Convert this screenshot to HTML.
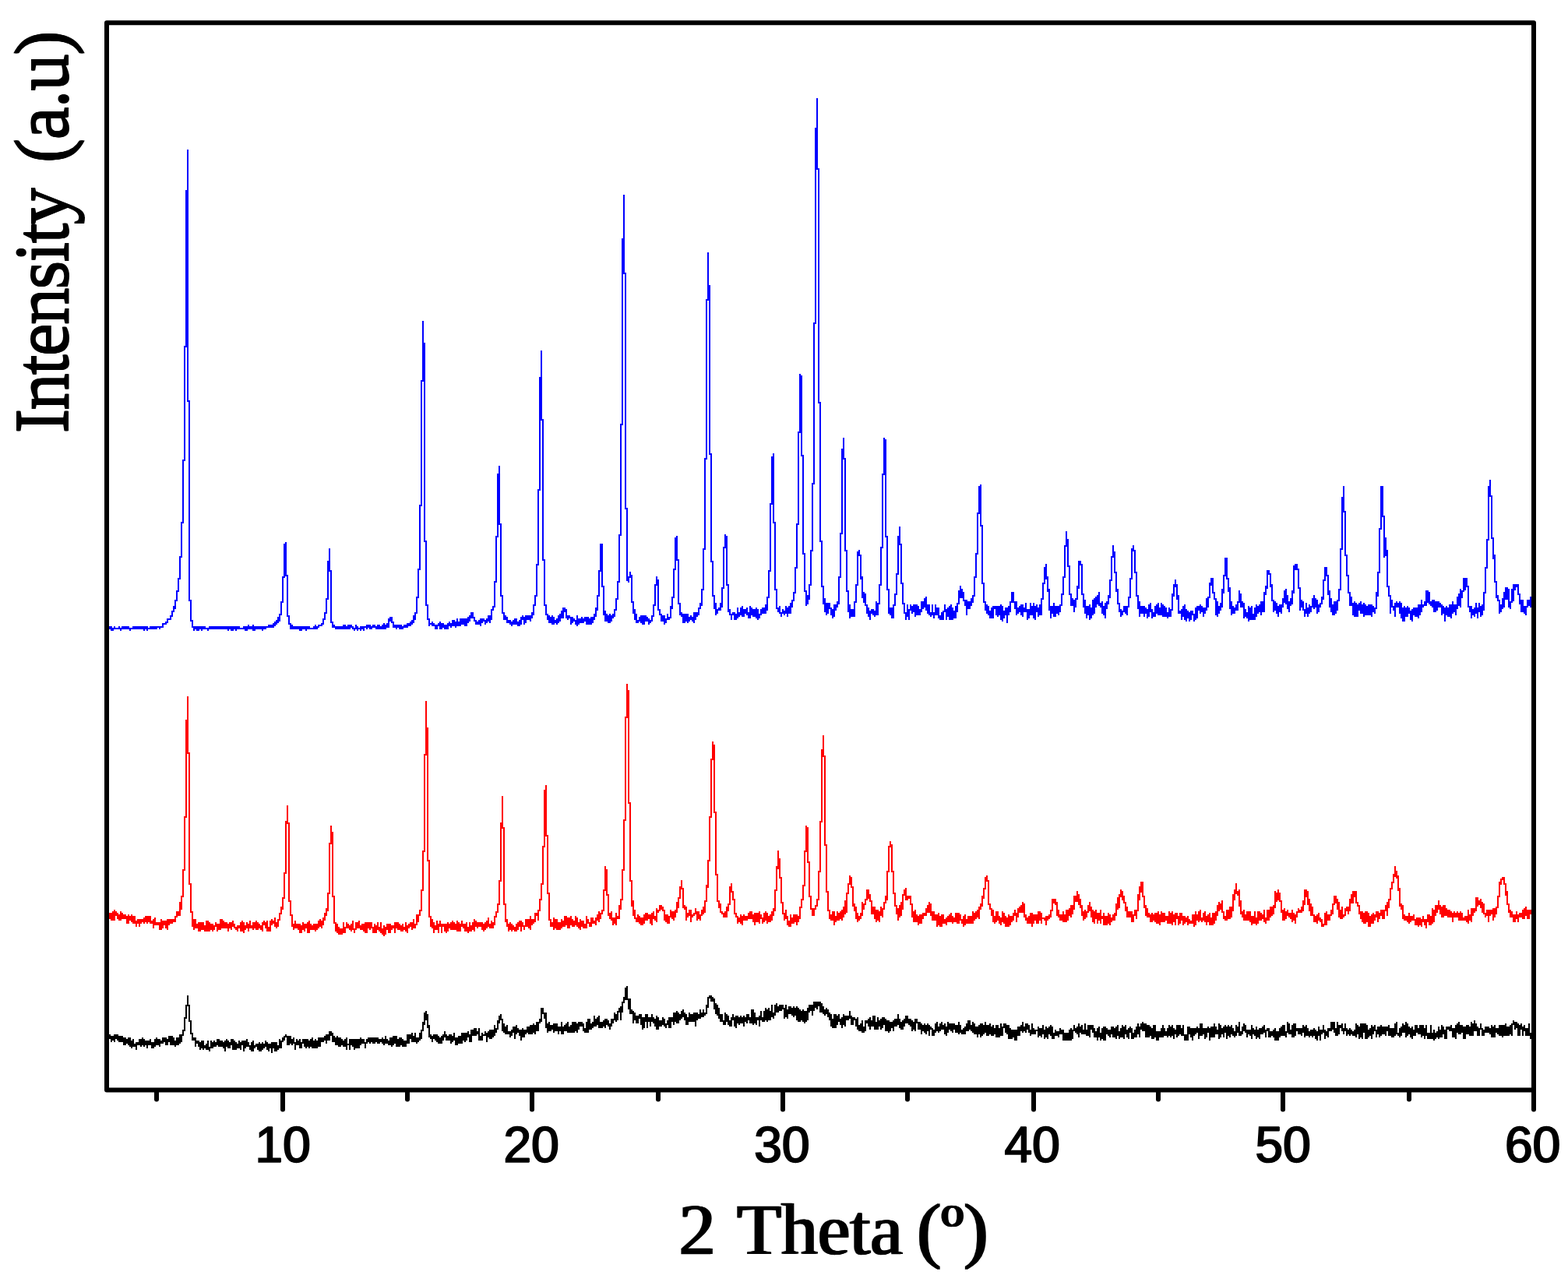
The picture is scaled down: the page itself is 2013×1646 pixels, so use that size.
<!DOCTYPE html>
<html lang="en"><head><meta charset="utf-8"><title>XRD patterns</title>
<style>
html,body{margin:0;padding:0;background:#fff;}
body{width:2013px;height:1646px;overflow:hidden;}
#page{position:relative;width:2013px;height:1646px;overflow:hidden;background:#fff;}
svg{display:block;position:absolute;left:0;top:0;}
.tk{position:absolute;top:1430px;width:200px;text-align:center;white-space:nowrap;font-family:"Liberation Sans",Arial,sans-serif;font-weight:normal;font-size:64px;line-height:80px;height:80px;color:#000;-webkit-text-stroke:1.5px #000;text-shadow:0.7px 0 0 #000,1.4px 0 0 #000;}
.ax{position:absolute;white-space:nowrap;font-family:"Liberation Serif","Times New Roman",serif;font-size:93.5px;line-height:120px;height:120px;color:#000;text-align:center;-webkit-text-stroke:0.3px #000;text-shadow:1px 0 0 #000,2px 0 0 #000,2.7px 0 0 #000;letter-spacing:0px;}
#xl{left:668.9px;top:1519px;width:800px;}
#yl{-webkit-text-stroke:0;font-size:97px;letter-spacing:-2.9px;text-shadow:0 -1px 0 #000,0 -2px 0 #000,0 -2.7px 0 #000;left:-344.0px;top:238.9px;width:800px;transform:rotate(-90deg) scale(1,1);transform-origin:50% 50%;}
.c{fill:none;stroke-width:2;stroke-linecap:butt;shape-rendering:crispEdges;}
</style></head><body>
<div id="page">
<svg width="2013" height="1646" viewBox="0 0 2013 1646">
<rect x="0" y="0" width="2013" height="1646" fill="#fff"/>
<g class="c">
<path stroke="#0000ff" d="M141 804V808M143 804V810M145 806V810M147 804V808M149 806V808M151 806V808M153 804V808M155 806V810M157 804V808M159 804V808M161 804V808M163 804V808M165 804V808M167 806V810M169 806V808M171 804V808M173 804V808M175 804V808M177 804V808M179 804V808M181 804V808M183 804V808M185 804V810M187 804V808M189 804V810M191 806V808M193 804V808M195 804V808M197 804V808M199 804V808M201 804V808M203 804V806M205 804V808M207 804V806M209 800V806M211 800V802M213 798V802M215 794V800M217 794V796M219 790V796M221 784V792M223 778V786M225 770V782M227 758V772M229 742V760M231 714V744M233 670V716M235 590V672M237 444V592M239 244V446M241 192V516M243 514V772M245 770V798M247 796V806M249 804V810M251 804V808M253 804V810M255 804V810M257 804V808M259 804V810M261 804V808M263 804V808M265 806V808M267 806V810M269 804V808M271 804V808M273 804V808M275 804V808M277 804V808M279 804V808M281 804V808M283 804V808M285 804V808M287 804V808M289 804V808M291 804V808M293 804V810M295 804V808M297 804V810M299 804V810M301 804V808M303 804V810M305 804V808M307 804V808M309 806V808M311 806V808M313 804V808M315 804V810M317 804V810M319 802V808M321 804V808M323 804V808M325 802V810M327 804V810M329 804V808M331 804V808M333 804V808M335 804V808M337 804V810M339 804V808M341 804V808M343 804V806M345 802V806M347 802V806M349 802V806M351 800V806M353 798V804M355 796V802M357 792V800M359 788V798M361 772V790M363 740V774M365 698V742M367 696V740M369 738V792M371 790V802M373 800V808M375 802V808M377 804V808M379 804V808M381 804V808M383 804V808M385 804V810M387 804V810M389 804V808M391 804V808M393 804V810M395 804V808M397 804V808M399 806V808M401 806V808M403 804V808M405 802V808M407 804V808M409 802V806M411 802V804M413 800V804M415 794V802M417 786V796M419 768V788M421 720V770M423 704V734M425 732V800M427 798V806M429 802V806M431 804V808M433 804V808M435 804V808M437 804V808M439 804V808M441 802V808M443 802V808M445 804V808M447 802V808M449 802V808M451 802V806M453 804V808M455 806V810M457 802V808M459 804V810M461 806V808M463 804V810M465 804V808M467 804V810M469 804V806M471 802V808M473 802V806M475 802V808M477 804V808M479 802V806M481 802V806M483 804V808M485 802V808M487 802V808M489 804V808M491 802V808M493 800V808M495 802V808M497 800V806M499 794V806M501 792V798M503 792V800M505 798V806M507 802V806M509 802V808M511 802V806M513 802V808M515 802V808M517 804V808M519 802V806M521 802V806M523 800V806M525 800V804M527 798V804M529 796V802M531 790V800M533 786V796M535 766V788M537 730V768M539 648V732M541 488V650M543 412V490M545 440V696M547 694V778M549 776V796M551 794V804M553 800V802M555 798V804M557 800V804M559 802V808M561 802V808M563 800V804M565 798V808M567 800V808M569 800V806M571 802V808M573 802V808M575 800V808M577 798V804M579 800V806M581 796V804M583 796V804M585 798V806M587 794V804M589 798V804M591 794V804M593 794V802M595 794V802M597 794V804M599 794V804M601 792V800M603 790V798M605 786V794M607 786V794M609 792V798M611 796V802M613 798V802M615 796V802M617 794V804M619 794V800M621 794V798M623 796V802M625 794V800M627 790V798M629 790V800M631 782V796M633 778V784M635 746V780M637 688V748M639 608V690M641 598V674M643 672V766M645 764V788M647 786V796M649 790V796M651 792V800M653 796V800M655 796V802M657 798V804M659 796V802M661 794V802M663 794V802M665 798V804M667 796V804M669 792V802M671 790V796M673 792V802M675 790V800M677 790V796M679 790V796M681 790V798M683 786V794M685 776V790M687 764V778M689 724V766M691 628V726M693 484V630M695 450V540M697 538V720M699 718V778M701 776V790M703 788V796M705 790V800M707 792V800M709 790V802M711 792V802M713 796V800M715 794V802M717 790V800M719 788V798M721 784V794M723 780V794M725 780V786M727 782V794M729 790V796M731 790V794M733 792V802M735 792V800M737 794V798M739 796V802M741 790V804M743 794V802M745 794V800M747 792V800M749 794V800M751 792V798M753 792V802M755 792V802M757 794V802M759 792V802M761 792V800M763 788V796M765 780V792M767 764V784M769 732V766M771 698V734M773 698V754M775 752V790M777 784V798M779 788V798M781 790V800M783 788V800M785 790V798M787 788V794M789 782V792M791 768V784M793 746V770M795 686V748M797 544V688M799 306V546M801 250V352M803 350V654M805 652V746M807 740V748M809 734V742M811 738V774M813 772V788M815 782V796M817 788V800M819 796V800M821 792V798M823 790V800M825 790V802M827 790V802M829 790V798M831 792V798M833 794V802M835 796V800M837 790V798M839 776V792M841 750V778M843 740V752M845 744V784M847 782V790M849 788V798M851 790V798M853 790V802M855 794V800M857 788V796M859 792V796M861 778V794M863 766V782M865 730V768M867 690V732M869 688V720M871 718V776M873 774V790M875 786V792M877 788V800M879 788V800M881 788V798M883 788V800M885 792V798M887 790V796M889 792V798M891 786V800M893 786V796M895 786V792M897 780V790M899 774V782M901 756V778M903 704V758M905 588V706M907 384V590M909 324V386M911 366V584M913 582V722M915 720V766M917 764V782M919 774V790M921 782V788M923 780V784M925 774V784M927 754V780M929 702V756M931 686V704M933 688V752M935 750V786M937 782V790M939 788V796M941 786V790M943 786V796M945 788V796M947 780V794M949 786V792M951 780V790M953 778V792M955 782V792M957 782V788M959 780V790M961 786V794M963 778V794M965 780V790M967 782V792M969 782V792M971 780V794M973 782V796M975 788V794M977 782V790M979 780V788M981 780V788M983 776V788M985 766V784M987 732V768M989 646V734M991 586V648M993 582V672M995 670V758M997 756V782M999 780V786M1001 778V788M1003 786V792M1005 782V788M1007 784V790M1009 778V788M1011 780V792M1013 778V788M1015 774V788M1017 770V780M1019 760V772M1021 728V762M1023 672V730M1025 554V674M1027 480V556M1029 482V586M1031 584V712M1033 710V760M1035 758V778M1037 764V776M1039 750V770M1041 706V752M1043 620V708M1045 414V622M1047 164V416M1049 126V218M1051 216V518M1053 516V696M1055 694V754M1057 752V776M1059 768V786M1061 774V790M1063 774V788M1065 774V782M1067 780V790M1069 782V794M1071 776V792M1073 776V784M1075 772V780M1077 740V776M1079 684V742M1081 576V686M1083 562V590M1085 588V708M1087 706V760M1089 758V786M1091 776V794M1093 782V792M1095 782V792M1097 772V792M1099 750V774M1101 708V752M1103 706V714M1105 712V744M1107 740V768M1109 760V774M1111 762V778M1113 776V788M1115 780V792M1117 784V796M1119 782V788M1121 782V790M1123 784V792M1125 772V790M1127 774V790M1129 750V776M1131 702V752M1133 608V704M1135 562V610M1137 564V690M1139 688V758M1141 756V788M1143 780V790M1145 780V794M1147 776V794M1149 762V778M1151 736V764M1153 688V738M1155 676V700M1157 698V750M1159 748V776M1161 774V788M1163 786V796M1165 776V792M1167 782V796M1169 776V784M1171 778V788M1173 776V786M1175 776V792M1177 776V790M1179 778V790M1181 782V790M1183 772V786M1185 772V782M1187 768V780M1189 766V784M1191 776V788M1193 776V790M1195 786V792M1197 776V790M1199 786V794M1201 776V790M1203 780V790M1205 780V794M1207 790V796M1209 786V796M1211 784V796M1213 776V786M1215 782V796M1217 780V792M1219 778V796M1221 776V796M1223 780V796M1225 784V794M1227 778V794M1229 774V786M1231 758V776M1233 752V768M1235 756V768M1237 760V772M1239 770V778M1241 770V790M1243 772V782M1245 772V782M1247 768V778M1249 764V774M1251 740V766M1253 710V742M1255 658V712M1257 624V660M1259 622V676M1261 674V750M1263 748V774M1265 772V784M1267 776V788M1269 778V790M1271 784V794M1273 780V794M1275 778V794M1277 778V782M1279 778V790M1281 778V792M1283 778V790M1285 776V796M1287 778V798M1289 784V794M1291 780V790M1293 780V800M1295 778V790M1297 772V786M1299 760V774M1301 760V774M1303 772V782M1305 772V790M1307 780V788M1309 778V786M1311 776V790M1313 776V792M1315 780V786M1317 774V786M1319 782V796M1321 782V794M1323 774V790M1325 778V790M1327 774V794M1329 778V796M1331 776V786M1333 780V792M1335 776V790M1337 768V790M1339 748V770M1341 728V750M1343 724V744M1345 740V760M1347 756V784M1349 778V794M1351 778V788M1353 774V792M1355 778V792M1357 778V788M1359 778V790M1361 776V786M1363 762V778M1365 740V764M1367 700V742M1369 682V702M1371 692V728M1373 726V764M1375 762V778M1377 768V778M1379 770V786M1381 768V780M1383 752V770M1385 720V756M1387 720V726M1389 724V764M1391 762V780M1393 770V788M1395 778V794M1397 778V790M1399 776V796M1401 780V794M1403 770V790M1405 768V788M1407 766V780M1409 764V776M1411 760V778M1413 774V780M1415 772V788M1417 778V790M1419 774V794M1421 772V782M1423 764V776M1425 744V768M1427 714V746M1429 700V716M1431 708V736M1433 734V760M1435 756V776M1437 774V786M1439 782V792M1441 784V790M1443 778V786M1445 778V788M1447 778V790M1449 766V780M1451 742V768M1453 704V744M1455 700V708M1457 706V736M1459 734V766M1461 764V782M1463 772V792M1465 778V788M1467 778V788M1469 778V792M1471 780V788M1473 782V794M1475 776V792M1477 774V786M1479 782V794M1481 786V792M1483 778V792M1485 776V788M1487 774V790M1489 780V790M1491 774V790M1493 776V792M1495 778V792M1497 780V792M1499 786V794M1501 780V792M1503 782V792M1505 762V784M1507 750V766M1509 744V754M1511 750V770M1513 764V788M1515 784V788M1517 782V796M1519 778V792M1521 776V796M1523 782V798M1525 784V794M1527 786V798M1529 784V796M1531 784V790M1533 788V798M1535 780V796M1537 778V794M1539 778V784M1541 776V788M1543 778V786M1545 780V792M1547 780V788M1549 768V784M1551 766V780M1553 748V768M1555 742V752M1557 742V762M1559 760V770M1561 768V790M1563 772V792M1565 778V788M1567 774V784M1569 756V780M1571 738V762M1573 716V740M1575 716V744M1577 742V760M1579 754V782M1581 772V790M1583 778V788M1585 780V788M1587 776V784M1589 772V784M1591 758V774M1593 762V780M1595 772V780M1597 774V794M1599 782V792M1601 786V794M1603 778V798M1605 780V796M1607 778V796M1609 788V796M1611 780V796M1613 776V792M1615 778V788M1617 776V786M1619 772V790M1621 772V786M1623 760V786M1625 752V764M1627 732V756M1629 732V738M1631 736V754M1633 750V772M1635 770V786M1637 772V784M1639 774V788M1641 778V792M1643 776V786M1645 776V788M1647 768V780M1649 758V774M1651 756V776M1653 764V782M1655 772V786M1657 768V778M1659 758V776M1661 726V762M1663 724V732M1665 724V732M1667 730V756M1669 754V784M1671 770V780M1673 772V784M1675 782V792M1677 774V788M1679 780V792M1681 776V788M1683 778V786M1685 768V780M1687 764V782M1689 768V780M1691 770V788M1693 776V786M1695 774V780M1697 766V776M1699 744V770M1701 728V746M1703 728V740M1705 738V764M1707 758V780M1709 768V786M1711 776V790M1713 772V790M1715 772V788M1717 770V784M1719 756V772M1721 704V758M1723 638V706M1725 624V658M1727 656V714M1729 712V740M1731 738V762M1733 760V778M1735 766V778M1737 774V790M1739 772V792M1741 774V792M1743 776V792M1745 774V784M1747 772V788M1749 776V788M1751 774V792M1753 776V790M1755 778V790M1757 776V790M1759 776V790M1761 776V792M1763 778V786M1765 780V788M1767 760V782M1769 734V766M1771 678V736M1773 624V680M1775 624V664M1777 662V716M1779 690V714M1781 706V754M1783 752V766M1785 764V788M1787 770V780M1789 778V784M1791 774V792M1793 772V780M1795 774V780M1797 772V788M1799 774V794M1801 780V798M1803 778V798M1805 780V792M1807 778V792M1809 780V788M1811 784V796M1813 782V798M1815 780V790M1817 780V792M1819 780V792M1821 776V794M1823 776V790M1825 770V786M1827 776V780M1829 772V778M1831 758V778M1833 758V774M1835 760V776M1837 772V778M1839 770V780M1841 770V786M1843 772V786M1845 772V784M1847 772V780M1849 774V780M1851 776V790M1853 778V788M1855 780V798M1857 778V790M1859 780V792M1861 776V792M1863 776V794M1865 772V788M1867 776V786M1869 776V790M1871 766V782M1873 762V778M1875 756V780M1877 758V768M1879 742V760M1881 742V758M1883 742V754M1885 752V780M1887 778V786M1889 778V794M1891 782V790M1893 780V792M1895 774V788M1897 780V794M1899 774V786M1901 778V792M1903 776V790M1905 760V784M1907 728V762M1909 692V730M1911 624V694M1913 616V638M1915 636V692M1917 690V718M1919 712V748M1921 746V768M1923 764V772M1925 770V788M1927 776V786M1929 768V782M1931 760V780M1933 754V770M1935 754V770M1937 756V780M1939 772V782M1941 756V774M1943 750V772M1945 750V758M1947 750V754M1949 750V764M1951 762V776M1953 770V786M1955 770V786M1957 778V788M1959 778V790M1961 770V780M1963 770V778M1965 766V780"/>
<path stroke="#ff0000" d="M141 1172V1180M143 1172V1182M145 1170V1182M147 1168V1182M149 1170V1176M151 1172V1180M153 1174V1182M155 1170V1182M157 1172V1180M159 1174V1180M161 1174V1180M163 1176V1186M165 1174V1186M167 1176V1182M169 1174V1184M171 1176V1186M173 1176V1186M175 1182V1190M177 1180V1186M179 1180V1190M181 1180V1186M183 1180V1184M185 1178V1186M187 1176V1184M189 1176V1186M191 1176V1184M193 1176V1186M195 1182V1186M197 1180V1192M199 1178V1188M201 1184V1188M203 1184V1188M205 1184V1194M207 1180V1194M209 1182V1192M211 1182V1188M213 1182V1192M215 1180V1194M217 1180V1188M219 1180V1186M221 1180V1186M223 1180V1184M225 1176V1184M227 1170V1178M229 1170V1176M231 1158V1176M233 1150V1168M235 1116V1152M237 1048V1118M239 924V1050M241 894V968M243 966V1136M245 1134V1172M247 1170V1190M249 1180V1194M251 1180V1192M253 1186V1192M255 1184V1196M257 1184V1196M259 1184V1194M261 1184V1194M263 1188V1196M265 1182V1196M267 1182V1196M269 1184V1196M271 1186V1194M273 1186V1196M275 1188V1194M277 1184V1190M279 1186V1196M281 1186V1194M283 1180V1194M285 1180V1192M287 1182V1192M289 1184V1192M291 1184V1192M293 1186V1196M295 1184V1192M297 1184V1194M299 1182V1190M301 1186V1192M303 1190V1194M305 1188V1196M307 1188V1192M309 1184V1196M311 1182V1196M313 1184V1198M315 1188V1194M317 1184V1192M319 1186V1196M321 1182V1192M323 1188V1192M325 1184V1194M327 1184V1192M329 1182V1194M331 1184V1194M333 1186V1192M335 1188V1194M337 1184V1196M339 1182V1188M341 1184V1192M343 1182V1196M345 1190V1196M347 1182V1196M349 1180V1188M351 1182V1186M353 1178V1190M355 1184V1192M357 1180V1190M359 1172V1182M361 1164V1174M363 1152V1168M365 1120V1154M367 1054V1122M369 1034V1058M371 1056V1158M373 1156V1176M375 1174V1190M377 1186V1194M379 1182V1192M381 1186V1192M383 1186V1194M385 1186V1198M387 1188V1198M389 1184V1194M391 1186V1196M393 1186V1192M395 1184V1198M397 1182V1198M399 1186V1194M401 1188V1194M403 1186V1194M405 1186V1196M407 1186V1194M409 1182V1192M411 1180V1190M413 1182V1192M415 1178V1188M417 1172V1182M419 1166V1176M421 1146V1170M423 1082V1148M425 1060V1084M427 1068V1152M429 1150V1186M431 1184V1196M433 1186V1198M435 1190V1200M437 1192V1200M439 1192V1200M441 1184V1198M443 1190V1198M445 1184V1192M447 1186V1192M449 1188V1194M451 1186V1196M453 1182V1194M455 1192V1198M457 1184V1194M459 1184V1192M461 1182V1192M463 1188V1194M465 1186V1194M467 1186V1196M469 1184V1198M471 1184V1198M473 1184V1192M475 1184V1194M477 1184V1192M479 1190V1198M481 1186V1198M483 1188V1198M485 1184V1194M487 1190V1196M489 1184V1198M491 1192V1200M493 1188V1202M495 1190V1200M497 1186V1194M499 1186V1198M501 1186V1198M503 1188V1194M505 1188V1192M507 1184V1198M509 1184V1192M511 1184V1194M513 1186V1194M515 1188V1196M517 1186V1196M519 1190V1194M521 1184V1196M523 1188V1198M525 1186V1192M527 1184V1190M529 1184V1194M531 1180V1192M533 1186V1192M535 1174V1188M537 1174V1184M539 1168V1176M541 1142V1170M543 1092V1144M545 968V1094M547 900V970M549 934V1106M551 1104V1178M553 1176V1190M555 1180V1192M557 1184V1198M559 1188V1194M561 1182V1194M563 1186V1198M565 1182V1190M567 1186V1198M569 1186V1190M571 1186V1196M573 1186V1198M575 1184V1196M577 1186V1192M579 1184V1194M581 1182V1194M583 1184V1194M585 1186V1194M587 1182V1196M589 1184V1196M591 1186V1196M593 1182V1190M595 1186V1192M597 1186V1196M599 1184V1196M601 1190V1198M603 1184V1196M605 1188V1196M607 1184V1194M609 1180V1196M611 1182V1190M613 1184V1192M615 1184V1190M617 1184V1190M619 1184V1194M621 1186V1196M623 1184V1194M625 1182V1192M627 1178V1190M629 1186V1192M631 1182V1192M633 1184V1192M635 1176V1188M637 1170V1178M639 1160V1172M641 1130V1162M643 1056V1132M645 1022V1064M647 1062V1162M649 1160V1184M651 1180V1190M653 1186V1196M655 1184V1194M657 1186V1196M659 1188V1194M661 1190V1196M663 1186V1196M665 1184V1194M667 1182V1190M669 1182V1196M671 1184V1190M673 1188V1194M675 1180V1190M677 1180V1190M679 1180V1192M681 1176V1194M683 1180V1188M685 1180V1186M687 1172V1184M689 1172V1176M691 1168V1182M693 1154V1170M695 1134V1156M697 1086V1136M699 1014V1088M701 1008V1074M703 1072V1148M705 1146V1182M707 1180V1190M709 1184V1190M711 1178V1194M713 1180V1192M715 1180V1194M717 1184V1194M719 1184V1194M721 1180V1192M723 1182V1190M725 1176V1190M727 1176V1188M729 1178V1192M731 1178V1192M733 1176V1188M735 1180V1190M737 1182V1190M739 1176V1188M741 1178V1190M743 1184V1192M745 1180V1194M747 1182V1190M749 1182V1192M751 1186V1192M753 1176V1192M755 1180V1186M757 1184V1190M759 1178V1190M761 1178V1186M763 1182V1186M765 1178V1188M767 1174V1182M769 1170V1184M771 1172V1180M773 1168V1174M775 1142V1170M777 1112V1144M779 1116V1150M781 1148V1176M783 1172V1180M785 1170V1182M787 1178V1188M789 1178V1186M791 1172V1188M793 1176V1180M795 1162V1180M797 1154V1168M799 1116V1156M801 1052V1118M803 920V1054M805 878V922M807 886V1032M809 1030V1132M811 1130V1164M813 1156V1176M815 1168V1180M817 1178V1184M819 1174V1184M821 1176V1186M823 1178V1188M825 1178V1188M827 1174V1186M829 1172V1182M831 1172V1182M833 1174V1180M835 1174V1186M837 1172V1188M839 1170V1180M841 1176V1182M843 1166V1184M845 1168V1172M847 1162V1170M849 1162V1168M851 1164V1170M853 1168V1182M855 1174V1184M857 1174V1186M859 1176V1186M861 1168V1178M863 1170V1180M865 1170V1182M867 1168V1178M869 1158V1172M871 1152V1166M873 1138V1154M875 1130V1142M877 1140V1166M879 1162V1168M881 1164V1182M883 1172V1178M885 1168V1176M887 1168V1184M889 1174V1178M891 1172V1176M893 1166V1174M895 1170V1182M897 1170V1180M899 1174V1182M901 1168V1176M903 1164V1174M905 1156V1172M907 1136V1158M909 1104V1140M911 1048V1106M913 974V1050M915 952V976M917 956V1044M919 1042V1124M921 1122V1158M923 1156V1166M925 1160V1172M927 1170V1174M929 1172V1178M931 1170V1178M933 1164V1178M935 1160V1170M937 1138V1162M939 1134V1146M941 1144V1156M943 1154V1174M945 1172V1178M947 1176V1186M949 1178V1184M951 1174V1186M953 1176V1188M955 1174V1182M957 1176V1182M959 1176V1182M961 1172V1180M963 1170V1180M965 1170V1180M967 1174V1184M969 1172V1188M971 1172V1184M973 1172V1184M975 1170V1186M977 1174V1180M979 1178V1186M981 1172V1184M983 1170V1182M985 1172V1186M987 1176V1184M989 1174V1184M991 1170V1182M993 1166V1176M995 1142V1170M997 1112V1144M999 1092V1116M1001 1102V1128M1003 1126V1160M1005 1158V1174M1007 1172V1182M1009 1168V1180M1011 1176V1188M1013 1182V1190M1015 1174V1190M1017 1178V1186M1019 1174V1186M1021 1174V1184M1023 1174V1188M1025 1176V1184M1027 1164V1180M1029 1154V1166M1031 1136V1156M1033 1092V1138M1035 1060V1094M1037 1062V1108M1039 1106V1152M1041 1150V1168M1043 1166V1176M1045 1166V1176M1047 1162V1168M1049 1154V1164M1051 1118V1156M1053 1054V1120M1055 962V1056M1057 944V972M1059 970V1086M1061 1084V1146M1063 1144V1170M1065 1168V1180M1067 1174V1182M1069 1170V1182M1071 1170V1188M1073 1176V1184M1075 1170V1182M1077 1172V1182M1079 1170V1180M1081 1168V1182M1083 1164V1178M1085 1156V1174M1087 1146V1172M1089 1134V1148M1091 1124V1136M1093 1126V1140M1095 1138V1164M1097 1160V1170M1099 1164V1180M1101 1172V1184M1103 1176V1182M1105 1172V1180M1107 1158V1176M1109 1160V1168M1111 1154V1162M1113 1142V1156M1115 1142V1154M1117 1148V1158M1119 1156V1174M1121 1164V1174M1123 1164V1180M1125 1168V1184M1127 1168V1182M1129 1170V1184M1131 1164V1176M1133 1166V1178M1135 1158V1168M1137 1150V1160M1139 1118V1156M1141 1086V1120M1143 1080V1088M1145 1084V1120M1147 1118V1148M1149 1146V1164M1151 1162V1174M1153 1166V1182M1155 1162V1178M1157 1158V1176M1159 1148V1168M1161 1142V1150M1163 1140V1156M1165 1150V1156M1167 1150V1154M1169 1150V1162M1171 1160V1178M1173 1170V1184M1175 1168V1184M1177 1174V1184M1179 1176V1188M1181 1174V1186M1183 1174V1186M1185 1172V1180M1187 1172V1176M1189 1166V1176M1191 1162V1172M1193 1158V1172M1195 1160V1176M1197 1170V1182M1199 1170V1182M1201 1174V1182M1203 1174V1190M1205 1172V1188M1207 1176V1190M1209 1174V1190M1211 1174V1186M1213 1180V1186M1215 1178V1188M1217 1176V1184M1219 1174V1184M1221 1172V1184M1223 1176V1186M1225 1178V1184M1227 1172V1184M1229 1172V1186M1231 1172V1186M1233 1174V1182M1235 1180V1186M1237 1176V1190M1239 1174V1188M1241 1180V1186M1243 1176V1186M1245 1176V1186M1247 1176V1186M1249 1170V1186M1251 1172V1182M1253 1170V1180M1255 1168V1178M1257 1164V1180M1259 1160V1168M1261 1150V1164M1263 1140V1154M1265 1126V1142M1267 1124V1132M1269 1130V1162M1271 1160V1168M1273 1166V1176M1275 1168V1184M1277 1176V1186M1279 1170V1184M1281 1170V1182M1283 1176V1186M1285 1178V1188M1287 1170V1184M1289 1172V1186M1291 1176V1190M1293 1178V1190M1295 1174V1190M1297 1176V1188M1299 1176V1184M1301 1172V1182M1303 1168V1176M1305 1172V1184M1307 1166V1178M1309 1164V1172M1311 1162V1172M1313 1158V1172M1315 1160V1178M1317 1174V1182M1319 1178V1186M1321 1176V1186M1323 1172V1186M1325 1172V1190M1327 1174V1186M1329 1174V1182M1331 1174V1186M1333 1170V1186M1335 1170V1182M1337 1172V1186M1339 1178V1180M1341 1178V1182M1343 1176V1188M1345 1176V1182M1347 1174V1180M1349 1168V1178M1351 1154V1170M1353 1154V1160M1355 1154V1162M1357 1158V1176M1359 1168V1178M1361 1174V1182M1363 1174V1182M1365 1170V1184M1367 1174V1184M1369 1168V1184M1371 1168V1182M1373 1166V1176M1375 1162V1178M1377 1162V1174M1379 1150V1168M1381 1150V1158M1383 1144V1158M1385 1148V1162M1387 1154V1166M1389 1162V1176M1391 1170V1182M1393 1168V1180M1395 1170V1178M1397 1162V1172M1399 1158V1170M1401 1164V1178M1403 1168V1184M1405 1170V1186M1407 1168V1180M1409 1172V1186M1411 1172V1182M1413 1168V1186M1415 1176V1180M1417 1172V1188M1419 1176V1188M1421 1176V1188M1423 1172V1186M1425 1174V1188M1427 1178V1184M1429 1174V1182M1431 1172V1182M1433 1160V1176M1435 1152V1168M1437 1148V1166M1439 1142V1152M1441 1144V1156M1443 1150V1160M1445 1158V1170M1447 1164V1178M1449 1170V1178M1451 1170V1178M1453 1170V1184M1455 1174V1184M1457 1168V1176M1459 1168V1180M1461 1148V1170M1463 1138V1156M1465 1132V1146M1467 1132V1152M1469 1150V1166M1471 1162V1176M1473 1166V1178M1475 1172V1178M1477 1174V1184M1479 1172V1184M1481 1174V1182M1483 1172V1184M1485 1172V1186M1487 1170V1186M1489 1174V1188M1491 1170V1184M1493 1172V1184M1495 1172V1184M1497 1176V1182M1499 1176V1186M1501 1170V1186M1503 1172V1186M1505 1170V1188M1507 1174V1184M1509 1172V1188M1511 1172V1180M1513 1176V1188M1515 1172V1186M1517 1172V1182M1519 1176V1188M1521 1176V1186M1523 1178V1184M1525 1176V1188M1527 1180V1186M1529 1182V1186M1531 1174V1186M1533 1174V1190M1535 1170V1188M1537 1174V1182M1539 1170V1184M1541 1168V1182M1543 1178V1184M1545 1172V1182M1547 1170V1184M1549 1176V1188M1551 1174V1184M1553 1172V1188M1555 1178V1188M1557 1172V1188M1559 1172V1186M1561 1170V1182M1563 1162V1176M1565 1158V1170M1567 1160V1168M1569 1156V1172M1571 1170V1180M1573 1176V1182M1575 1168V1182M1577 1168V1180M1579 1164V1180M1581 1164V1178M1583 1148V1170M1585 1142V1156M1587 1134V1148M1589 1144V1150M1591 1142V1164M1593 1156V1174M1595 1170V1178M1597 1168V1182M1599 1174V1182M1601 1170V1182M1603 1170V1182M1605 1170V1184M1607 1176V1188M1609 1176V1186M1611 1170V1186M1613 1178V1188M1615 1170V1186M1617 1170V1182M1619 1172V1182M1621 1174V1180M1623 1168V1184M1625 1178V1186M1627 1168V1182M1629 1168V1182M1631 1164V1178M1633 1164V1176M1635 1162V1174M1637 1144V1166M1639 1146V1158M1641 1142V1156M1643 1146V1158M1645 1156V1172M1647 1168V1182M1649 1166V1182M1651 1170V1180M1653 1168V1176M1655 1172V1178M1657 1172V1180M1659 1168V1184M1661 1172V1182M1663 1174V1186M1665 1170V1178M1667 1166V1172M1669 1168V1172M1671 1164V1172M1673 1156V1170M1675 1142V1162M1677 1142V1152M1679 1144V1162M1681 1154V1170M1683 1160V1176M1685 1164V1176M1687 1174V1184M1689 1176V1184M1691 1174V1186M1693 1172V1182M1695 1178V1184M1697 1180V1190M1699 1186V1190M1701 1172V1188M1703 1170V1188M1705 1174V1182M1707 1174V1182M1709 1168V1176M1711 1160V1174M1713 1150V1162M1715 1150V1160M1717 1154V1168M1719 1158V1178M1721 1168V1180M1723 1164V1180M1725 1174V1178M1727 1166V1176M1729 1164V1170M1731 1164V1174M1733 1154V1170M1735 1148V1160M1737 1144V1160M1739 1144V1152M1741 1144V1160M1743 1158V1164M1745 1162V1174M1747 1170V1180M1749 1170V1184M1751 1172V1186M1753 1170V1186M1755 1170V1184M1757 1172V1190M1759 1176V1190M1761 1174V1186M1763 1172V1186M1765 1174V1182M1767 1170V1178M1769 1170V1184M1771 1172V1180M1773 1168V1176M1775 1168V1180M1777 1168V1180M1779 1162V1170M1781 1158V1176M1783 1154V1166M1785 1140V1156M1787 1132V1142M1789 1122V1134M1791 1112V1126M1793 1118V1128M1795 1124V1144M1797 1140V1164M1799 1160V1168M1801 1162V1180M1803 1174V1182M1805 1176V1182M1807 1176V1184M1809 1172V1186M1811 1176V1184M1813 1176V1182M1815 1174V1182M1817 1180V1188M1819 1178V1188M1821 1178V1190M1823 1178V1188M1825 1180V1190M1827 1176V1184M1829 1180V1188M1831 1180V1192M1833 1174V1184M1835 1174V1188M1837 1176V1188M1839 1166V1186M1841 1168V1184M1843 1162V1176M1845 1162V1172M1847 1156V1168M1849 1162V1174M1851 1164V1178M1853 1162V1178M1855 1162V1176M1857 1166V1176M1859 1168V1178M1861 1168V1178M1863 1170V1178M1865 1172V1184M1867 1170V1178M1869 1172V1178M1871 1170V1178M1873 1172V1182M1875 1170V1182M1877 1172V1182M1879 1178V1182M1881 1176V1182M1883 1176V1184M1885 1168V1186M1887 1174V1182M1889 1166V1184M1891 1166V1176M1893 1166V1172M1895 1152V1170M1897 1152V1164M1899 1156V1162M1901 1154V1166M1903 1158V1172M1905 1160V1174M1907 1172V1178M1909 1168V1176M1911 1168V1184M1913 1168V1176M1915 1168V1174M1917 1166V1182M1919 1166V1178M1921 1164V1174M1923 1150V1166M1925 1132V1152M1927 1128V1136M1929 1126V1130M1931 1126V1136M1933 1134V1150M1935 1144V1162M1937 1160V1172M1939 1168V1178M1941 1170V1178M1943 1174V1184M1945 1174V1184M1947 1170V1180M1949 1174V1184M1951 1172V1178M1953 1172V1178M1955 1168V1180M1957 1166V1180M1959 1164V1176M1961 1168V1180M1963 1168V1180M1965 1168V1174"/>
<path stroke="#000000" d="M141 1328V1334M143 1330V1338M145 1330V1336M147 1328V1338M149 1328V1334M151 1328V1336M153 1330V1338M155 1330V1338M157 1330V1338M159 1332V1342M161 1332V1342M163 1334V1340M165 1332V1342M167 1332V1344M169 1336V1346M171 1334V1344M173 1340V1344M175 1338V1348M177 1338V1342M179 1334V1342M181 1334V1344M183 1332V1342M185 1334V1344M187 1336V1342M189 1336V1346M191 1336V1342M193 1334V1342M195 1338V1346M197 1338V1346M199 1334V1344M201 1332V1342M203 1334V1342M205 1334V1344M207 1336V1340M209 1332V1340M211 1332V1338M213 1332V1342M215 1334V1342M217 1330V1338M219 1330V1342M221 1330V1342M223 1332V1342M225 1336V1344M227 1332V1342M229 1332V1342M231 1328V1340M233 1328V1338M235 1322V1330M237 1306V1324M239 1290V1308M241 1278V1292M243 1290V1312M245 1310V1328M247 1326V1336M249 1332V1336M251 1332V1344M253 1336V1340M255 1336V1344M257 1338V1348M259 1336V1346M261 1336V1348M263 1342V1346M265 1340V1348M267 1336V1348M269 1344V1350M271 1336V1346M273 1338V1346M275 1336V1344M277 1338V1344M279 1334V1342M281 1334V1344M283 1336V1344M285 1336V1344M287 1338V1346M289 1336V1350M291 1334V1344M293 1336V1346M295 1338V1346M297 1334V1342M299 1334V1348M301 1336V1348M303 1338V1348M305 1340V1346M307 1336V1346M309 1338V1348M311 1336V1342M313 1336V1350M315 1336V1346M317 1334V1344M319 1338V1344M321 1342V1348M323 1338V1350M325 1336V1350M327 1342V1346M329 1340V1344M331 1340V1348M333 1338V1350M335 1340V1350M337 1338V1348M339 1340V1346M341 1336V1344M343 1338V1348M345 1340V1350M347 1340V1346M349 1338V1352M351 1338V1346M353 1338V1350M355 1338V1350M357 1342V1348M359 1334V1346M361 1336V1346M363 1332V1338M365 1330V1336M367 1328V1332M369 1330V1342M371 1330V1342M373 1330V1340M375 1334V1342M377 1332V1340M379 1338V1348M381 1334V1342M383 1336V1342M385 1334V1346M387 1338V1346M389 1334V1340M391 1334V1344M393 1334V1346M395 1334V1344M397 1336V1346M399 1334V1344M401 1332V1346M403 1336V1346M405 1334V1346M407 1336V1346M409 1332V1344M411 1332V1344M413 1332V1338M415 1332V1338M417 1330V1336M419 1328V1340M421 1328V1336M423 1324V1336M425 1324V1330M427 1326V1338M429 1330V1338M431 1332V1342M433 1330V1342M435 1332V1344M437 1332V1344M439 1334V1342M441 1336V1344M443 1334V1344M445 1332V1348M447 1340V1342M449 1334V1348M451 1334V1342M453 1334V1344M455 1334V1348M457 1334V1346M459 1334V1346M461 1334V1346M463 1332V1342M465 1334V1340M467 1334V1340M469 1338V1346M471 1334V1340M473 1332V1338M475 1332V1340M477 1332V1338M479 1332V1340M481 1332V1340M483 1332V1338M485 1332V1340M487 1334V1340M489 1334V1338M491 1332V1340M493 1334V1342M495 1330V1340M497 1334V1340M499 1336V1342M501 1332V1342M503 1332V1344M505 1330V1342M507 1330V1340M509 1330V1344M511 1334V1344M513 1332V1344M515 1332V1342M517 1334V1344M519 1336V1344M521 1336V1344M523 1328V1340M525 1328V1340M527 1328V1334M529 1326V1338M531 1330V1338M533 1326V1338M535 1332V1340M537 1332V1338M539 1326V1336M541 1322V1334M543 1312V1324M545 1300V1316M547 1298V1310M549 1302V1320M551 1316V1332M553 1328V1334M555 1330V1338M557 1328V1334M559 1328V1336M561 1328V1338M563 1330V1340M565 1332V1340M567 1330V1340M569 1328V1336M571 1324V1332M573 1328V1336M575 1330V1336M577 1328V1336M579 1328V1340M581 1330V1338M583 1326V1336M585 1332V1342M587 1332V1342M589 1330V1340M591 1330V1340M593 1326V1340M595 1326V1336M597 1326V1338M599 1326V1336M601 1324V1332M603 1328V1338M605 1322V1338M607 1322V1330M609 1320V1330M611 1320V1330M613 1324V1328M615 1320V1336M617 1330V1336M619 1326V1336M621 1328V1330M623 1324V1330M625 1326V1338M627 1324V1332M629 1322V1334M631 1322V1334M633 1322V1332M635 1316V1330M637 1320V1326M639 1310V1322M641 1304V1314M643 1302V1310M645 1308V1324M647 1314V1326M649 1318V1328M651 1316V1328M653 1324V1328M655 1324V1332M657 1322V1330M659 1318V1326M661 1318V1334M663 1316V1328M665 1320V1326M667 1322V1330M669 1322V1336M671 1320V1332M673 1322V1332M675 1322V1328M677 1318V1326M679 1318V1328M681 1316V1328M683 1316V1328M685 1314V1326M687 1316V1328M689 1312V1324M691 1312V1324M693 1308V1314M695 1294V1312M697 1294V1302M699 1300V1308M701 1300V1320M703 1314V1326M705 1312V1324M707 1316V1324M709 1316V1322M711 1314V1326M713 1314V1324M715 1314V1324M717 1318V1328M719 1318V1324M721 1312V1328M723 1318V1328M725 1316V1324M727 1314V1324M729 1312V1326M731 1318V1326M733 1316V1326M735 1312V1326M737 1312V1326M739 1312V1324M741 1314V1326M743 1312V1322M745 1312V1318M747 1312V1318M749 1314V1324M751 1320V1326M753 1312V1326M755 1308V1326M757 1308V1322M759 1314V1322M761 1312V1320M763 1304V1318M765 1308V1318M767 1306V1316M769 1304V1320M771 1312V1320M773 1312V1320M775 1310V1318M777 1308V1320M779 1308V1316M781 1310V1318M783 1314V1322M785 1308V1318M787 1308V1314M789 1300V1310M791 1302V1312M793 1298V1310M795 1294V1300M797 1292V1310M799 1286V1300M801 1280V1288M803 1268V1284M805 1266V1284M807 1282V1296M809 1282V1302M811 1296V1302M813 1298V1314M815 1300V1310M817 1304V1314M819 1304V1314M821 1302V1308M823 1302V1316M825 1306V1322M827 1306V1320M829 1302V1312M831 1302V1320M833 1306V1312M835 1306V1318M837 1302V1312M839 1306V1314M841 1308V1318M843 1304V1322M845 1306V1322M847 1310V1318M849 1310V1318M851 1306V1316M853 1308V1318M855 1314V1320M857 1310V1316M859 1306V1320M861 1306V1320M863 1306V1312M865 1300V1316M867 1300V1312M869 1298V1314M871 1300V1314M873 1302V1310M875 1298V1308M877 1296V1306M879 1300V1310M881 1302V1316M883 1306V1316M885 1300V1312M887 1302V1312M889 1302V1312M891 1300V1312M893 1300V1318M895 1300V1310M897 1302V1308M899 1296V1308M901 1300V1306M903 1296V1306M905 1300V1304M907 1290V1302M909 1280V1294M911 1278V1282M913 1278V1286M915 1280V1286M917 1282V1296M919 1288V1302M921 1290V1304M923 1294V1308M925 1302V1312M927 1302V1312M929 1310V1316M931 1300V1316M933 1302V1312M935 1304V1316M937 1310V1318M939 1306V1318M941 1302V1310M943 1306V1318M945 1304V1320M947 1304V1314M949 1306V1316M951 1304V1314M953 1306V1314M955 1304V1318M957 1306V1312M959 1302V1314M961 1302V1310M963 1306V1314M965 1296V1314M967 1296V1316M969 1300V1314M971 1306V1316M973 1306V1310M975 1304V1318M977 1298V1310M979 1306V1312M981 1298V1312M983 1294V1310M985 1296V1312M987 1294V1310M989 1298V1310M991 1290V1306M993 1300V1308M995 1290V1304M997 1288V1300M999 1292V1300M1001 1290V1298M1003 1290V1298M1005 1290V1296M1007 1294V1308M1009 1290V1306M1011 1296V1308M1013 1292V1302M1015 1292V1302M1017 1294V1304M1019 1292V1306M1021 1294V1304M1023 1292V1310M1025 1294V1312M1027 1296V1312M1029 1298V1310M1031 1296V1312M1033 1298V1314M1035 1298V1312M1037 1294V1310M1039 1290V1300M1041 1290V1298M1043 1290V1304M1045 1286V1298M1047 1286V1294M1049 1286V1296M1051 1286V1292M1053 1286V1300M1055 1288V1300M1057 1292V1302M1059 1296V1304M1061 1294V1302M1063 1296V1306M1065 1300V1310M1067 1302V1318M1069 1308V1320M1071 1302V1320M1073 1302V1320M1075 1304V1316M1077 1302V1312M1079 1308V1316M1081 1306V1320M1083 1302V1316M1085 1304V1318M1087 1304V1310M1089 1304V1310M1091 1298V1308M1093 1304V1316M1095 1306V1316M1097 1306V1310M1099 1308V1318M1101 1306V1322M1103 1316V1324M1105 1314V1324M1107 1310V1326M1109 1318V1326M1111 1310V1324M1113 1310V1314M1115 1308V1318M1117 1306V1322M1119 1310V1318M1121 1304V1318M1123 1304V1322M1125 1312V1322M1127 1306V1322M1129 1310V1318M1131 1308V1322M1133 1306V1320M1135 1306V1316M1137 1308V1324M1139 1310V1324M1141 1310V1326M1143 1312V1324M1145 1312V1320M1147 1310V1324M1149 1308V1318M1151 1308V1318M1153 1302V1316M1155 1308V1320M1157 1312V1322M1159 1310V1322M1161 1308V1318M1163 1304V1314M1165 1304V1314M1167 1308V1316M1169 1308V1318M1171 1310V1324M1173 1312V1322M1175 1308V1324M1177 1308V1314M1179 1312V1322M1181 1312V1322M1183 1314V1328M1185 1316V1324M1187 1314V1326M1189 1316V1328M1191 1314V1324M1193 1316V1330M1195 1318V1322M1197 1320V1330M1199 1322V1330M1201 1314V1326M1203 1312V1324M1205 1318V1326M1207 1314V1324M1209 1312V1322M1211 1316V1322M1213 1314V1328M1215 1318V1330M1217 1312V1326M1219 1314V1322M1221 1314V1324M1223 1314V1326M1225 1314V1322M1227 1316V1326M1229 1316V1326M1231 1312V1328M1233 1316V1326M1235 1322V1328M1237 1320V1328M1239 1318V1328M1241 1314V1324M1243 1310V1324M1245 1310V1322M1247 1316V1324M1249 1312V1326M1251 1314V1328M1253 1318V1328M1255 1318V1332M1257 1316V1328M1259 1314V1332M1261 1314V1330M1263 1316V1328M1265 1312V1326M1267 1316V1330M1269 1316V1330M1271 1314V1328M1273 1318V1330M1275 1316V1330M1277 1320V1328M1279 1316V1332M1281 1316V1332M1283 1320V1332M1285 1314V1330M1287 1318V1330M1289 1314V1320M1291 1314V1326M1293 1316V1328M1295 1316V1334M1297 1320V1334M1299 1322V1334M1301 1322V1332M1303 1322V1336M1305 1322V1336M1307 1318V1330M1309 1318V1330M1311 1316V1324M1313 1312V1326M1315 1318V1324M1317 1314V1326M1319 1314V1322M1321 1316V1326M1323 1322V1330M1325 1314V1328M1327 1320V1328M1329 1322V1328M1331 1322V1324M1333 1318V1332M1335 1320V1330M1337 1320V1332M1339 1316V1328M1341 1322V1334M1343 1318V1332M1345 1320V1334M1347 1318V1328M1349 1316V1330M1351 1318V1334M1353 1326V1334M1355 1322V1330M1357 1324V1330M1359 1324V1332M1361 1320V1328M1363 1322V1328M1365 1322V1336M1367 1326V1336M1369 1326V1336M1371 1326V1336M1373 1322V1336M1375 1320V1336M1377 1322V1334M1379 1316V1324M1381 1320V1326M1383 1318V1328M1385 1314V1332M1387 1318V1326M1389 1316V1328M1391 1322V1328M1393 1314V1328M1395 1322V1330M1397 1316V1330M1399 1316V1332M1401 1316V1322M1403 1316V1326M1405 1320V1332M1407 1324V1332M1409 1320V1336M1411 1318V1332M1413 1326V1336M1415 1320V1334M1417 1318V1336M1419 1318V1336M1421 1320V1328M1423 1322V1330M1425 1322V1332M1427 1318V1328M1429 1318V1332M1431 1320V1332M1433 1318V1334M1435 1316V1330M1437 1324V1334M1439 1320V1332M1441 1316V1332M1443 1318V1334M1445 1316V1328M1447 1322V1332M1449 1320V1334M1451 1318V1326M1453 1320V1334M1455 1326V1334M1457 1322V1332M1459 1318V1332M1461 1314V1328M1463 1318V1332M1465 1314V1322M1467 1312V1324M1469 1314V1324M1471 1314V1332M1473 1316V1332M1475 1316V1332M1477 1318V1330M1479 1320V1334M1481 1316V1334M1483 1316V1332M1485 1324V1336M1487 1324V1336M1489 1324V1332M1491 1320V1332M1493 1316V1332M1495 1320V1330M1497 1324V1330M1499 1320V1332M1501 1316V1330M1503 1318V1332M1505 1316V1330M1507 1320V1334M1509 1322V1328M1511 1316V1332M1513 1316V1330M1515 1316V1328M1517 1320V1330M1519 1316V1330M1521 1328V1336M1523 1328V1336M1525 1318V1336M1527 1318V1328M1529 1320V1332M1531 1320V1336M1533 1320V1330M1535 1320V1328M1537 1318V1326M1539 1320V1334M1541 1314V1330M1543 1314V1330M1545 1320V1328M1547 1320V1334M1549 1320V1332M1551 1318V1326M1553 1320V1336M1555 1318V1332M1557 1318V1332M1559 1314V1332M1561 1318V1328M1563 1322V1328M1565 1314V1334M1567 1316V1332M1569 1320V1328M1571 1318V1332M1573 1316V1326M1575 1318V1334M1577 1316V1330M1579 1318V1332M1581 1316V1328M1583 1320V1330M1585 1324V1332M1587 1316V1330M1589 1318V1326M1591 1312V1330M1593 1324V1330M1595 1318V1328M1597 1314V1324M1599 1316V1326M1601 1322V1332M1603 1322V1328M1605 1322V1330M1607 1316V1334M1609 1320V1328M1611 1322V1330M1613 1318V1334M1615 1322V1332M1617 1320V1334M1619 1320V1328M1621 1318V1328M1623 1316V1326M1625 1322V1332M1627 1320V1324M1629 1320V1332M1631 1324V1332M1633 1324V1330M1635 1322V1332M1637 1320V1336M1639 1324V1336M1641 1324V1336M1643 1320V1332M1645 1318V1330M1647 1316V1330M1649 1316V1330M1651 1324V1332M1653 1312V1326M1655 1314V1328M1657 1322V1328M1659 1316V1332M1661 1314V1332M1663 1314V1330M1665 1320V1324M1667 1320V1328M1669 1320V1328M1671 1320V1330M1673 1316V1326M1675 1318V1332M1677 1316V1330M1679 1320V1330M1681 1324V1332M1683 1322V1330M1685 1322V1332M1687 1320V1330M1689 1322V1334M1691 1324V1336M1693 1318V1330M1695 1322V1336M1697 1322V1328M1699 1316V1326M1701 1322V1334M1703 1324V1330M1705 1320V1332M1707 1320V1324M1709 1312V1324M1711 1312V1322M1713 1312V1326M1715 1320V1330M1717 1312V1330M1719 1316V1328M1721 1316V1320M1723 1314V1324M1725 1320V1328M1727 1314V1324M1729 1320V1330M1731 1322V1328M1733 1320V1330M1735 1322V1328M1737 1324V1330M1739 1322V1330M1741 1314V1332M1743 1316V1328M1745 1318V1334M1747 1314V1332M1749 1314V1334M1751 1314V1326M1753 1314V1334M1755 1316V1334M1757 1322V1332M1759 1320V1330M1761 1316V1334M1763 1318V1328M1765 1316V1324M1767 1322V1332M1769 1318V1328M1771 1318V1332M1773 1316V1330M1775 1318V1328M1777 1318V1328M1779 1318V1330M1781 1318V1324M1783 1316V1330M1785 1320V1330M1787 1320V1332M1789 1320V1332M1791 1314V1330M1793 1312V1328M1795 1326V1330M1797 1320V1332M1799 1318V1330M1801 1314V1326M1803 1316V1326M1805 1312V1332M1807 1314V1330M1809 1318V1328M1811 1320V1332M1813 1318V1334M1815 1322V1330M1817 1316V1330M1819 1316V1326M1821 1320V1328M1823 1316V1328M1825 1316V1332M1827 1316V1330M1829 1320V1334M1831 1316V1330M1833 1326V1334M1835 1326V1334M1837 1316V1334M1839 1326V1334M1841 1322V1336M1843 1326V1334M1845 1324V1332M1847 1318V1334M1849 1322V1332M1851 1316V1332M1853 1318V1328M1855 1322V1334M1857 1318V1334M1859 1318V1322M1861 1318V1324M1863 1316V1324M1865 1320V1332M1867 1320V1332M1869 1316V1334M1871 1314V1326M1873 1312V1328M1875 1316V1328M1877 1316V1326M1879 1318V1334M1881 1318V1334M1883 1316V1328M1885 1316V1328M1887 1318V1330M1889 1312V1330M1891 1314V1330M1893 1310V1324M1895 1314V1324M1897 1318V1330M1899 1320V1330M1901 1314V1322M1903 1320V1330M1905 1322V1330M1907 1318V1326M1909 1318V1326M1911 1318V1326M1913 1320V1328M1915 1316V1332M1917 1318V1332M1919 1316V1332M1921 1320V1326M1923 1320V1328M1925 1316V1330M1927 1316V1330M1929 1316V1332M1931 1316V1330M1933 1314V1330M1935 1318V1330M1937 1318V1330M1939 1316V1328M1941 1314V1330M1943 1310V1316M1945 1312V1322M1947 1312V1320M1949 1314V1330M1951 1316V1330M1953 1314V1322M1955 1318V1330M1957 1316V1324M1959 1320V1330M1961 1320V1330M1963 1314V1330M1965 1326V1334"/>
</g>
<rect x="137" y="29.3" width="1832" height="1370.3" fill="none" stroke="#000" stroke-width="6" stroke-linejoin="round"/>
<g stroke="#000" stroke-width="6" stroke-linecap="round"><line x1="201.0" y1="1400" x2="201.0" y2="1411.6"/><line x1="363.0" y1="1400" x2="363.0" y2="1424.6"/><line x1="523.0" y1="1400" x2="523.0" y2="1411.6"/><line x1="683.0" y1="1400" x2="683.0" y2="1424.6"/><line x1="845.0" y1="1400" x2="845.0" y2="1411.6"/><line x1="1005.0" y1="1400" x2="1005.0" y2="1424.6"/><line x1="1165.0" y1="1400" x2="1165.0" y2="1411.6"/><line x1="1327.0" y1="1400" x2="1327.0" y2="1424.6"/><line x1="1487.0" y1="1400" x2="1487.0" y2="1411.6"/><line x1="1647.0" y1="1400" x2="1647.0" y2="1424.6"/><line x1="1809.0" y1="1400" x2="1809.0" y2="1411.6"/><line x1="1969.0" y1="1400" x2="1969.0" y2="1424.6"/></g>
</svg>
<div class="tk" style="left:262.8px">10</div><div class="tk" style="left:581.8px">20</div><div class="tk" style="left:903.5px">30</div><div class="tk" style="left:1224.8px">40</div><div class="tk" style="left:1546.8px">50</div><div class="tk" style="left:1867.3px">60</div>
<div class="ax" id="xl">2<span style="letter-spacing:4px"> </span>Theta<span style="letter-spacing:-5px"> </span>(º)</div>
<div class="ax" id="yl">Intensity<span style="letter-spacing:9.5px"> </span><span style="letter-spacing:-2.4px">(a.u)</span></div>
</div>
</body></html>
